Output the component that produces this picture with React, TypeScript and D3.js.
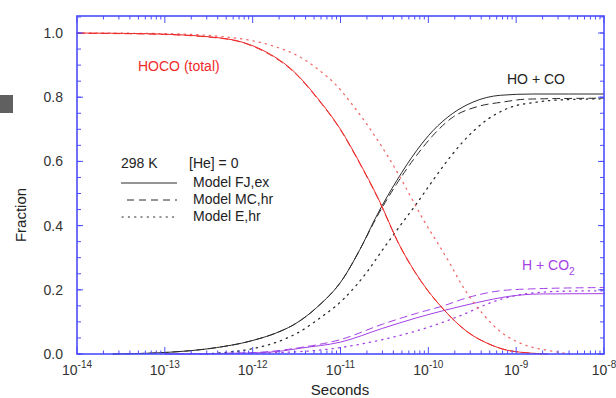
import React from "react";
import * as d3 from "d3";

// log10(seconds) and fraction values
const hocoFJ_t = [-14.0, -13.24, -12.49, -12.1, -11.84, -11.53, -11.27, -11.0, -10.78, -10.58, -10.32, -10.09, -9.83, -9.56, -9.3, -9.07, -8.65];
const hocoFJ_y = [1.0, 0.998, 0.988, 0.97, 0.94, 0.88, 0.8, 0.7, 0.595, 0.49, 0.335, 0.23, 0.14, 0.07, 0.03, 0.01, 0.0];
const hocoMC_t = [-14.0, -13.24, -12.49, -12.1, -11.84, -11.53, -11.27, -11.0, -10.78, -10.58, -10.32, -10.09, -9.83, -9.56, -9.3, -9.07, -8.65];
const hocoMC_y = [0.999, 0.997, 0.987, 0.969, 0.938, 0.878, 0.798, 0.698, 0.593, 0.488, 0.334, 0.229, 0.14, 0.07, 0.03, 0.01, 0.0];
const hocoE_t = [-14.0, -13.0, -12.22, -11.77, -11.46, -11.27, -11.04, -10.86, -10.66, -10.47, -10.32, -10.21, -10.06, -9.87, -9.75, -9.64, -9.38, -9.18, -8.92, -8.61, -8.39];
const hocoE_y = [1.0, 0.998, 0.985, 0.96, 0.925, 0.89, 0.835, 0.775, 0.7, 0.62, 0.55, 0.495, 0.42, 0.335, 0.28, 0.225, 0.125, 0.07, 0.03, 0.01, 0.0];

const hoFJ_t = [-13.59, -12.98, -12.41, -12.03, -11.65, -11.54, -11.27, -10.97, -10.78, -10.58, -10.36, -10.13, -9.95, -9.72, -9.49, -9.18, -8.81, -8.0];
const hoFJ_y = [0.0, 0.005, 0.02, 0.04, 0.075, 0.09, 0.145, 0.235, 0.325, 0.435, 0.54, 0.635, 0.695, 0.75, 0.785, 0.806, 0.81, 0.81];
const hoMC_t = [-13.59, -12.98, -12.41, -12.03, -11.65, -11.54, -11.27, -10.97, -10.78, -10.58, -10.36, -10.13, -9.95, -9.72, -9.45, -9.15, -8.88, -8.0];
const hoMC_y = [0.0, 0.005, 0.02, 0.04, 0.075, 0.09, 0.145, 0.235, 0.325, 0.43, 0.53, 0.62, 0.68, 0.738, 0.77, 0.785, 0.794, 0.797];
const hoE_t = [-12.6, -12.03, -11.65, -11.46, -11.27, -10.97, -10.7, -10.52, -10.32, -10.13, -9.95, -9.79, -9.61, -9.33, -9.1, -8.76, -8.39, -8.0];
const hoE_y = [0.0, 0.015, 0.045, 0.07, 0.105, 0.17, 0.255, 0.325, 0.4, 0.47, 0.54, 0.6, 0.66, 0.73, 0.765, 0.785, 0.793, 0.795];

const hFJ_t = [-13.0, -12.03, -11.65, -11.46, -11.0, -10.52, -10.13, -9.83, -9.45, -9.07, -8.73, -8.0];
const hFJ_y = [0.0, 0.003, 0.01, 0.018, 0.037, 0.08, 0.113, 0.135, 0.16, 0.18, 0.187, 0.188];
const hMC_t = [-13.0, -12.03, -11.46, -11.0, -10.52, -10.13, -9.83, -9.56, -9.18, -8.81, -8.0];
const hMC_y = [0.0, 0.004, 0.02, 0.045, 0.093, 0.127, 0.15, 0.175, 0.197, 0.203, 0.207];
const hE_t = [-12.6, -11.65, -11.0, -10.52, -10.32, -9.95, -9.56, -9.38, -9.18, -8.81, -8.39, -8.0];
const hE_y = [0.0, 0.005, 0.02, 0.045, 0.058, 0.088, 0.128, 0.15, 0.17, 0.19, 0.196, 0.197];

const xExponents = [-14, -13, -12, -11, -10, -9, -8];
const yTickLabels = ["0.0", "0.2", "0.4", "0.6", "0.8", "1.0"];
const yTickValues = [0, 0.2, 0.4, 0.6, 0.8, 1.0];

const RED = "#ee2a2a";
const RED_LIGHT = "#f06a6a";
const BLACK = "#2a2a2a";
const PURPLE = "#a340e6";
const AXIS = "#4d4dff";
const FONT = "'Liberation Sans', Arial, Helvetica, sans-serif";

const DASH = "7 5";
const DOT = "1.3 5";

export default function App() {
  const W = 616, H = 398;
  const left = 77, right = 604, top = 16, bottom = 354;
  const x = d3.scaleLog().domain([1e-14, 1e-8]).range([left, right]);
  const y = d3.scaleLinear().domain([0, 1.053]).range([bottom, top]);

  const line = (ts: number[], ys: number[]) =>
    d3
      .line<[number, number]>()
      .x((d) => x(Math.pow(10, d[0])))
      .y((d) => y(d[1]))
      .curve(d3.curveMonotoneX)(ts.map((t, i) => [t, ys[i]] as [number, number])) || "";

  const series = [
    { t: hoE_t, v: hoE_y, c: BLACK, dash: DOT, w: 1.3 },
    { t: hoMC_t, v: hoMC_y, c: BLACK, dash: DASH, w: 1 },
    { t: hoFJ_t, v: hoFJ_y, c: BLACK, dash: undefined, w: 1 },
    { t: hE_t, v: hE_y, c: PURPLE, dash: DOT, w: 1.3 },
    { t: hMC_t, v: hMC_y, c: PURPLE, dash: DASH, w: 1 },
    { t: hFJ_t, v: hFJ_y, c: PURPLE, dash: undefined, w: 1 },
    { t: hocoE_t, v: hocoE_y, c: RED_LIGHT, dash: DOT, w: 1.3 },
    { t: hocoMC_t, v: hocoMC_y, c: RED, dash: DASH, w: 1 },
    { t: hocoFJ_t, v: hocoFJ_y, c: RED, dash: undefined, w: 1 },
  ];

  // ticks
  const xMajor = xExponents.map((e) => Math.pow(10, e));
  const xMinor: number[] = [];
  for (let e = -14; e < -8; e++) for (let m = 2; m <= 9; m++) xMinor.push(m * Math.pow(10, e));
  const yMinor = d3.range(0, 1.051, 0.05);

  return (
    <svg width={W} height={H} style={{ position: "absolute", left: 0, top: 0, background: "#fff" }} fontFamily={FONT}>
      <rect x={0} y={95} width={13} height={18} fill="#606060" />

      {/* curves */}
      <g fill="none">
        {series.map((s, i) => (
          <path key={i} d={line(s.t, s.v)} stroke={s.c} strokeWidth={s.w} strokeDasharray={s.dash} strokeLinecap="round" />
        ))}
      </g>

      {/* ticks */}
      <g stroke={AXIS} strokeWidth={1}>
        {xMinor.map((v, i) => (
          <g key={"xm" + i}>
            <line x1={x(v)} x2={x(v)} y1={bottom} y2={bottom - 3.5} />
            <line x1={x(v)} x2={x(v)} y1={top} y2={top + 3.5} />
          </g>
        ))}
        {xMajor.map((v, i) => (
          <g key={"xM" + i}>
            <line x1={x(v)} x2={x(v)} y1={bottom} y2={bottom - 7} />
            <line x1={x(v)} x2={x(v)} y1={top} y2={top + 7} />
          </g>
        ))}
        {yMinor.map((v, i) => (
          <g key={"ym" + i}>
            <line x1={left} x2={left + 4} y1={y(v)} y2={y(v)} />
            <line x1={right} x2={right - 4} y1={y(v)} y2={y(v)} />
          </g>
        ))}
        {yTickValues.map((v, i) => (
          <g key={"yM" + i}>
            <line x1={left} x2={left + 6} y1={y(v)} y2={y(v)} />
            <line x1={right} x2={right - 6} y1={y(v)} y2={y(v)} />
          </g>
        ))}
      </g>
      <rect x={left} y={top} width={right - left} height={bottom - top} fill="none" stroke={AXIS} strokeWidth={1.6} />

      {/* tick labels */}
      <g fill="#333" fontSize={14}>
        {yTickValues.map((v, i) => (
          <text key={"yl" + i} x={63} y={y(v)} textAnchor="end" dominantBaseline="central">
            {yTickLabels[i]}
          </text>
        ))}
        {xExponents.map((e, i) => (
          <text key={"xl" + i} x={x(Math.pow(10, e))} y={375} textAnchor="middle">
            <tspan>10</tspan>
            <tspan fontSize={10} dy={-7}>{String(e)}</tspan>
          </text>
        ))}
      </g>

      {/* axis titles */}
      <text x={340} y={395} textAnchor="middle" fontSize={15} fill="#222">Seconds</text>
      <text transform="translate(26,215) rotate(-90)" textAnchor="middle" fontSize={15} fill="#222">Fraction</text>

      {/* curve labels */}
      <text x={138} y={71} fontSize={14} fill={RED}>HOCO (total)</text>
      <text x={507} y={84} fontSize={14} fill="#222">HO + CO</text>
      <text x={522} y={270} fontSize={14} fill={PURPLE}>
        H + CO<tspan fontSize={10} dy={5}>2</tspan>
      </text>

      {/* legend */}
      <g fontSize={14} fill="#222">
        <text x={121} y={168}>298 K</text>
        <text x={189} y={168}>[He] = 0</text>
        <text x={193} y={187}>Model FJ,ex</text>
        <text x={193} y={204}>Model MC,hr</text>
        <text x={193} y={221}>Model E,hr</text>
      </g>
      <g stroke={BLACK} strokeWidth={1}>
        <line x1={121} x2={177} y1={183} y2={183} />
        <line x1={127} x2={177} y1={200} y2={200} strokeDasharray="7 5" />
        <line x1={122} x2={177} y1={217} y2={217} strokeDasharray="1.3 5" strokeLinecap="round" />
      </g>
    </svg>
  );
}
